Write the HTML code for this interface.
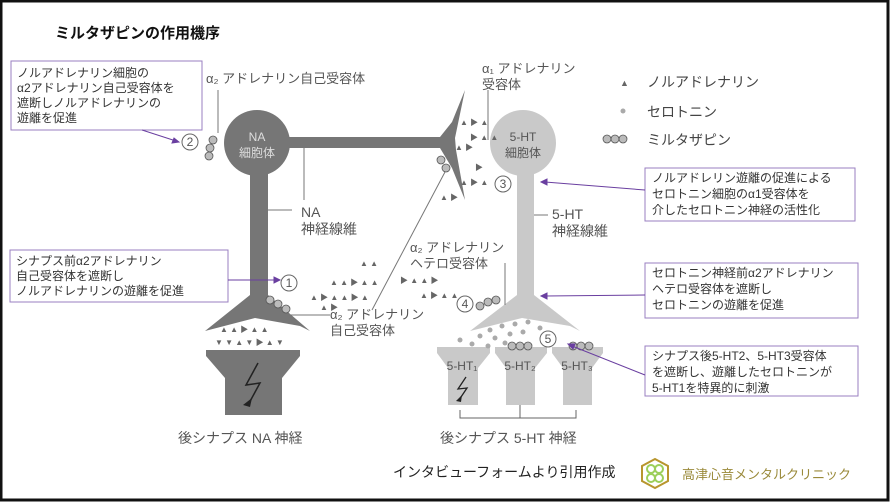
<!DOCTYPE html>
<html><head><meta charset="utf-8"><style>
html,body{margin:0;padding:0;background:#fff}
svg{display:block}
text{font-family:"Liberation Sans","Noto Sans CJK JP",sans-serif}
</style></head><body>
<svg width="890" height="502" viewBox="0 0 890 502" xmlns="http://www.w3.org/2000/svg">
<rect x="1" y="1" width="887" height="499" fill="#fff" stroke="#111" stroke-width="3"/>
<text x="55" y="38" font-size="15" font-weight="bold" fill="#111">ミルタザピンの作用機序</text>

<!-- NA neuron -->
<g fill="#767676">
<circle cx="257" cy="143" r="33"/>
<rect x="285" y="137" width="160" height="11"/>
<rect x="250" y="170" width="18" height="128"/>
<polygon points="465,90 452,122 440,137 440,148 452,168 465,200 456,150 455,138"/>
<polygon points="250,295 205,331 255,318 300,326 310,331 268,295"/>
<polygon points="206,350 300,350 300,356 282,378 282,415 225,415 225,378 206,356"/>
</g>
<text x="257" y="141" font-size="12" fill="#ddd" text-anchor="middle">NA</text>
<text x="257" y="157" font-size="12" fill="#ddd" text-anchor="middle">細胞体</text>
<path d="M258 363 L246 385 L260 383 L248 405" stroke="#222" stroke-width="1.5" fill="none"/>
<polygon points="243,405 252,398 250,407" fill="#222"/>

<!-- 5-HT neuron -->
<g fill="#c9c9c9">
<circle cx="523" cy="143" r="33"/>
<rect x="517" y="170" width="17" height="128"/>
<polygon points="517,295 470,331 522,318 570,326 580,331 534,295"/>
<polygon points="437,347 490,347 490,353 478,368 478,405 448,405 448,368 437,353"/>
<polygon points="495,347 547,347 547,353 535,368 535,405 506,405 506,368 495,353"/>
<polygon points="552,347 603,347 603,353 592,368 592,405 563,405 563,368 552,353"/>
</g>
<text x="523" y="141" font-size="12" fill="#555" text-anchor="middle">5-HT</text>
<text x="523" y="157" font-size="12" fill="#555" text-anchor="middle">細胞体</text>
<text x="462" y="370" font-size="12" fill="#555" text-anchor="middle">5-HT₁</text>
<text x="520" y="370" font-size="12" fill="#555" text-anchor="middle">5-HT₂</text>
<text x="577" y="370" font-size="12" fill="#555" text-anchor="middle">5-HT₃</text>
<path d="M466 377 L458 389 L467 388 L459 400" stroke="#222" stroke-width="1.3" fill="none"/>
<polygon points="456,401 462,395 461,402" fill="#222"/>
<path d="M460 410 v8 h116 v-8 M520 405 v13" stroke="#666" fill="none"/>

<!-- lines -->
<g stroke="#777" stroke-width="1" fill="none">
<line x1="218" y1="90" x2="218" y2="133"/>
<line x1="304" y1="145" x2="304" y2="200"/>
<line x1="258" y1="210" x2="292" y2="210"/>
<line x1="488" y1="90" x2="488" y2="140"/>
<line x1="534" y1="215" x2="548" y2="215"/>
<line x1="505" y1="263" x2="505" y2="305"/>
<line x1="372" y1="310" x2="445" y2="172"/>
<line x1="285" y1="315" x2="330" y2="315"/>
</g>

<!-- neurotransmitter triangles -->
<g fill="#666" font-size="8">
<text x="460" y="125">▲ ▶ ▲</text><text x="470" y="140">▶ ▲ ▲</text><text x="455" y="150">▲ ▶</text>
<text x="460" y="185">▲ ▶ ▲</text><text x="440" y="200">▲  ▶</text><text x="475" y="170">▶</text>
<text x="360" y="266">▲ ▲</text><text x="330" y="285">▲ ▲ ▶ ▲ ▲</text><text x="400" y="283">▶ ▲ ▲ ▶</text>
<text x="310" y="300">▲ ▶ ▲ ▲ ▶ ▲</text><text x="420" y="298">▲ ▶ ▲ ▲</text><text x="320" y="310">▲ ▶</text>
<text x="220" y="332">▲ ▲ ▶ ▲ ▲</text><text x="215" y="345">▼ ▼ ▲ ▼ ▶ ▲ ▼</text>
</g>
<g fill="#aaa">
<circle cx="490" cy="330" r="2.5"/><circle cx="502" cy="326" r="2.5"/><circle cx="515" cy="324" r="2.5"/><circle cx="528" cy="322" r="2.5"/>
<circle cx="480" cy="336" r="2.5"/><circle cx="495" cy="338" r="2.5"/><circle cx="510" cy="334" r="2.5"/><circle cx="523" cy="332" r="2.5"/><circle cx="540" cy="328" r="2.5"/>
<circle cx="472" cy="344" r="2.5"/><circle cx="488" cy="346" r="2.5"/><circle cx="460" cy="340" r="2.5"/><circle cx="505" cy="343" r="2.5"/>
</g>
<!-- mirtazapine beads -->
<g fill="#bbb" stroke="#555" stroke-width="0.8">
<circle cx="213" cy="140" r="4"/><circle cx="210" cy="148" r="4"/><circle cx="209" cy="156" r="4"/>
<circle cx="270" cy="300" r="4"/><circle cx="278" cy="304" r="4"/><circle cx="286" cy="309" r="4"/>
<circle cx="441" cy="160" r="4"/><circle cx="446" cy="168" r="4"/>
<circle cx="480" cy="306" r="4"/><circle cx="488" cy="302" r="4"/><circle cx="496" cy="300" r="4"/>
<circle cx="512" cy="346" r="4"/><circle cx="520" cy="346" r="4"/><circle cx="528" cy="346" r="4"/>
<circle cx="573" cy="346" r="4"/><circle cx="581" cy="346" r="4"/><circle cx="589" cy="346" r="4"/>
<circle cx="607" cy="139" r="4"/><circle cx="615" cy="139" r="4"/><circle cx="623" cy="139" r="4"/>
</g>

<!-- circled numbers -->
<g fill="none" stroke="#666"><circle cx="190" cy="142" r="8"/><circle cx="289" cy="283" r="8"/><circle cx="503" cy="184" r="8"/><circle cx="465" cy="304" r="8"/><circle cx="548" cy="339" r="8"/></g>
<g font-size="12" fill="#555" text-anchor="middle"><text x="190" y="146">2</text><text x="289" y="287">1</text><text x="503" y="188">3</text><text x="465" y="308">4</text><text x="548" y="343">5</text></g>

<!-- labels -->
<g font-size="13" fill="#555">
<text x="206" y="83">α₂ アドレナリン自己受容体</text>
<text x="482" y="73">α₁ アドレナリン</text><text x="482" y="89">受容体</text>
<text x="301" y="217" font-size="14">NA</text><text x="301" y="234" font-size="14">神経線維</text>
<text x="552" y="219" font-size="14">5-HT</text><text x="552" y="236" font-size="14">神経線維</text>
<text x="410" y="252">α₂ アドレナリン</text><text x="410" y="268">ヘテロ受容体</text>
<text x="330" y="319">α₂ アドレナリン</text><text x="330" y="335">自己受容体</text>
<text x="178" y="443" font-size="14">後シナプス NA 神経</text>
<text x="440" y="443" font-size="14">後シナプス 5-HT 神経</text>
</g>

<!-- legend -->
<g font-size="14" fill="#444">
<text x="620" y="86" font-size="9" fill="#666">▲</text><text x="647" y="87">ノルアドレナリン</text>
<circle cx="623" cy="111" r="2.5" fill="#aaa"/><text x="647" y="117">セロトニン</text>
<text x="647" y="145">ミルタザピン</text>
</g>

<!-- boxes -->
<g fill="#fff" stroke="#9a7fc0" stroke-width="1">
<rect x="11" y="61" width="191" height="69"/>
<rect x="10" y="250" width="218" height="52"/>
<rect x="645" y="168" width="210" height="53"/>
<rect x="645" y="263" width="213" height="55"/>
<rect x="645" y="346" width="213" height="50"/>
</g>
<g stroke="#6a3fa0" stroke-width="1" fill="#6a3fa0">
<line x1="142" y1="130" x2="176" y2="141"/><polygon points="179,142 172,143 174,138"/>
<line x1="228" y1="280" x2="276" y2="280"/><polygon points="280,280 274,277 274,283"/>
<line x1="645" y1="190" x2="545" y2="182"/><polygon points="541,182 547,179 547,185"/>
<line x1="645" y1="295" x2="545" y2="296"/><polygon points="541,296 547,293 547,299"/>
<line x1="645" y1="375" x2="572" y2="346"/><polygon points="568,344 575,344 573,349"/>
</g>
<g font-size="12" fill="#333">
<text x="17" y="77">ノルアドレナリン細胞の</text><text x="17" y="92">α2アドレナリン自己受容体を</text><text x="17" y="107">遮断しノルアドレナリンの</text><text x="17" y="122">遊離を促進</text>
<text x="16" y="265">シナプス前α2アドレナリン</text><text x="16" y="280">自己受容体を遮断し</text><text x="16" y="295">ノルアドレナリンの遊離を促進</text>
<text x="652" y="182">ノルアドレリン遊離の促進による</text><text x="652" y="198">セロトニン細胞のα1受容体を</text><text x="652" y="214">介したセロトニン神経の活性化</text>
<text x="652" y="277">セロトニン神経前α2アドレナリン</text><text x="652" y="293">ヘテロ受容体を遮断し</text><text x="652" y="309">セロトニンの遊離を促進</text>
<text x="652" y="360">シナプス後5-HT2、5-HT3受容体</text><text x="652" y="376">を遮断し、遊離したセロトニンが</text><text x="652" y="392">5-HT1を特異的に刺激</text>
</g>

<!-- footer -->
<text x="393" y="477" font-size="14" fill="#222">インタビューフォームより引用作成</text>
<polygon points="655,459 668,466 668,481 655,488 642,481 642,466" fill="none" stroke="#b8962e" stroke-width="2"/>
<circle cx="651" cy="469" r="4" fill="none" stroke="#9ccf5a" stroke-width="2"/><circle cx="659" cy="469" r="4" fill="none" stroke="#9ccf5a" stroke-width="2"/>
<circle cx="651" cy="478" r="4" fill="none" stroke="#9ccf5a" stroke-width="2"/><circle cx="659" cy="478" r="4" fill="none" stroke="#9ccf5a" stroke-width="2"/>
<text x="682" y="479" font-size="13" fill="#9a8a3a">高津心音メンタルクリニック</text>
</svg>
</body></html>
